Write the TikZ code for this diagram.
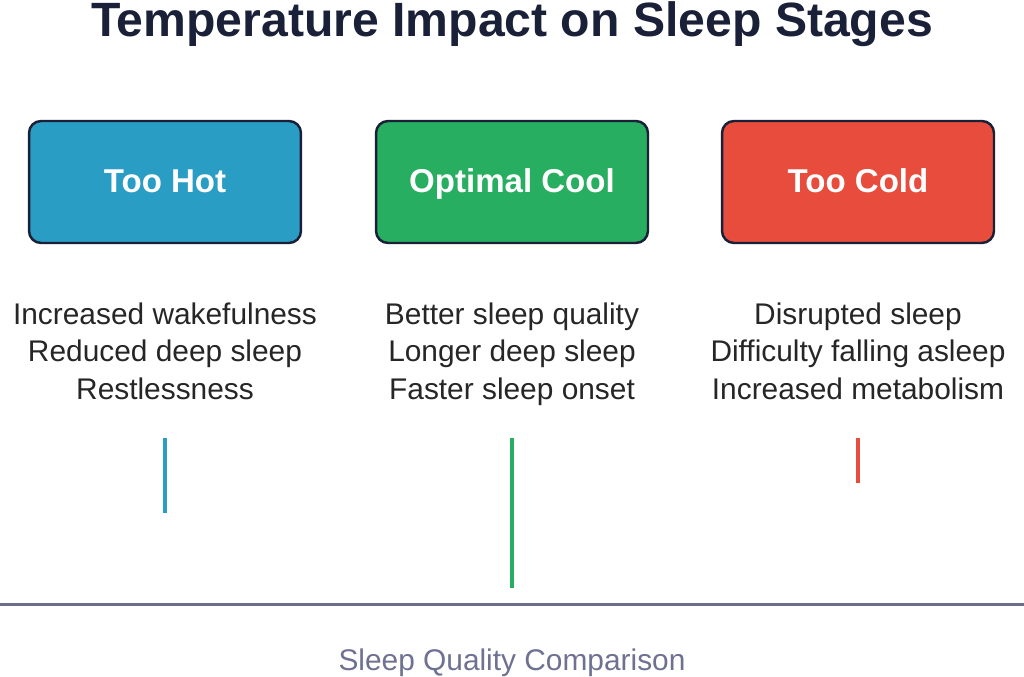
\documentclass[tikz,border=0pt]{standalone}
\usepackage{fontspec}
\setmainfont{Liberation Sans}
\usepackage{xcolor}
\definecolor{hotblue}{HTML}{2A9DC5}
\definecolor{coolgreen}{HTML}{27AE60}
\definecolor{coldred}{HTML}{E74C3C}
\definecolor{inkdark}{HTML}{1A2038}
\definecolor{axisgray}{HTML}{6B6E8A}
\definecolor{captgray}{HTML}{6E7191}

\begin{document}
\begin{tikzpicture}[x=0.02cm, y=-0.02cm,
                    tempbox/.style={rectangle,
                    draw = inkdark, line width = 1.4pt, text = white,
                    font = \fontsize{18.8}{22}\selectfont\bfseries,
                    text height = 13.5pt, text depth = 1.8pt,
                    minimum width = 5.44cm, minimum height = 2.44cm, rounded corners = 0.24cm},
                    effecttext/.style={align = center, text = black!85, anchor = base,
                    font = \fontsize{17}{21.3}\selectfont},
                    qualbar/.style={line width = 2pt},
                    axisline/.style={line width = 1.7pt, draw = axisgray}]

                    \useasboundingbox (0,0) rectangle (1024,676);

                    \node[font = \fontsize{27.4}{32}\selectfont\bfseries, text = inkdark, anchor = base] (title) at (512,36) {Temperature Impact on Sleep Stages};

                    \node[tempbox, fill = hotblue] (hot) at (165,182) {Too Hot};
                    \node[tempbox, fill = coolgreen] (cool) at (512,182) {Optimal Cool};
                    \node[tempbox, fill = coldred] (cold) at (858,182) {Too Cold};

                    % base = last line
                    \node[effecttext] (hottext) at (165,399) {Increased wakefulness\\Reduced deep sleep\\Restlessness};
                    \node[effecttext] (cooltext) at (512,399) {Better sleep quality\\Longer deep sleep\\Faster sleep onset};
                    \node[effecttext] (coldtext) at (858,399) {Disrupted sleep\\Difficulty falling asleep\\Increased metabolism};

                    % quality bars
                    \coordinate (hottop) at (165,438);
                    \coordinate (hotend) at (165,513);
                    \coordinate (cooltop) at (512,438);
                    \coordinate (coolend) at (512,588);
                    \coordinate (coldtop) at (858,438);
                    \coordinate (coldend) at (858,483);
                    \draw[qualbar, draw = hotblue] (hottop) -- (hotend);
                    \draw[qualbar, draw = coolgreen] (cooltop) -- (coolend);
                    \draw[qualbar, draw = coldred] (coldtop) -- (coldend);

                    \coordinate (axisleft) at (0,604);
                    \coordinate (axisright) at (1024,604);
                    \draw[axisline] (axisleft) -- (axisright);
                    \node[font = \fontsize{17}{21}\selectfont, text = captgray, anchor = base] (caption) at (512,670) {Sleep Quality Comparison};
                    \end{tikzpicture}
\end{document}
